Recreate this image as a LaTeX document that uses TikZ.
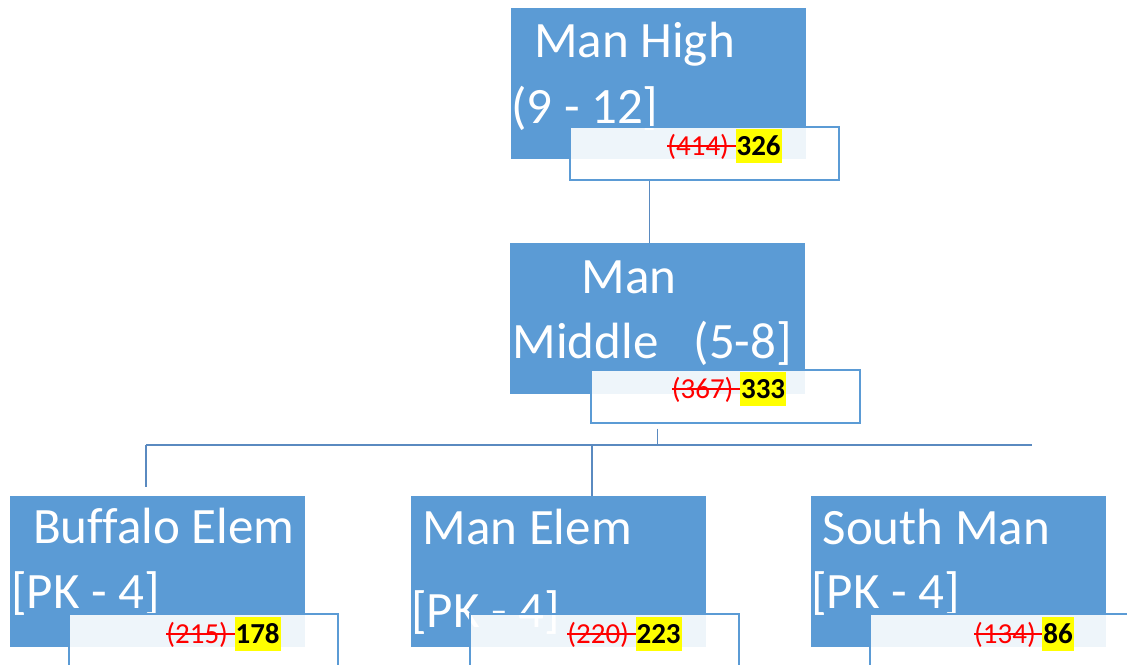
\documentclass[tikz,border=0pt]{standalone}
\usepackage{fontspec}
\setmainfont{Carlito}[Ligatures=NoCommon]
\usepackage{tikz}
\definecolor{unitblue}{HTML}{5B9BD5}
\definecolor{linkblue}{HTML}{5A8AC0}
\definecolor{oldred}{HTML}{FF0000}
\definecolor{marker}{HTML}{FFFF00}
% struck-out old enrolment, highlighted new one
\newcommand\oldtotal[1]{{\color{oldred}\setbox0\hbox{(#1) }\rlap{\rule[0.26em]{\wd0}{0.07em}}\box0}}
\newcommand\nowtotal[1]{{\setlength\fboxsep{0pt}\colorbox{marker}{\rule[-0.29em]{0pt}{1.2em}\hspace{1pt}\textbf{#1}\hspace{1pt}}}}

\begin{document}
\begin{tikzpicture}[x=1pt,y=-1pt]
\tikzstyle{unit}=[rectangle,fill=unitblue,anchor=north west,inner sep=0pt,minimum width=295pt,minimum height=151pt]
\tikzstyle{tally}=[rectangle,draw=unitblue,line width=1.5pt,fill=white,fill opacity=0.9,anchor=north west,inner sep=0pt,minimum width=269pt,minimum height=53pt]
\tikzstyle{unitname}=[text=white,anchor=base west,inner sep=0pt,font=\fontsize{51}{61}\selectfont]
\tikzstyle{tallytext}=[anchor=base,inner sep=0pt,font=\fontsize{29}{35}\selectfont]
\tikzstyle{link}=[draw=linkblue,line width=1.3pt]
\clip (0,0) rectangle (1127,664);

% schools
\node[unit] (MH) at (511,8) {};
\node[unitname] (MH1) at ([shift={(23,49)}]MH.north west) {Man High};
\node[unitname] (MH2) at ([shift={(0,115)}]MH.north west) {(9 - 12]};
\node[unit] (MM) at (510,243) {};
\node[unitname] (MM1) at ([shift={(71.5,50)}]MM.north west) {Man};
\node[unitname] (MM2) at ([shift={(2.5,115)}]MM.north west) {Middle\hspace{35pt}(5-8]};
\node[unit] (BE) at (10,496) {};
\node[unitname] (BE1) at ([shift={(23,47)}]BE.north west) {Buffalo Elem};
\node[unitname] (BE2) at ([shift={(1,112)}]BE.north west) {[PK - 4]};
\node[unit] (ME) at (411,496) {};
\node[unitname] (ME1) at ([shift={(11.5,48)}]ME.north west) {Man Elem};
\node[unitname] (ME2) at ([shift={(0,131)}]ME.north west) {[PK - 4]};
\node[unit] (SM) at (811,496) {};
\node[unitname] (SM1) at ([shift={(11.5,48)}]SM.north west) {South Man};
\node[unitname] (SM2) at ([shift={(0,112)}]SM.north west) {[PK - 4]};

% enrolment boxes
\node[tally] (MHn) at ([shift={(58,118)}]MH.north west) {};
\node[tallytext] at ([shift={(155.5,29)}]MHn.north west) {\oldtotal{414}\nowtotal{326}};
\node[tally] (MMn) at ([shift={(80,126)}]MM.north west) {};
\node[tallytext] at ([shift={(139,29)}]MMn.north west) {\oldtotal{367}\nowtotal{333}};
\node[tally] (BEn) at ([shift={(58,117)}]BE.north west) {};
\node[tallytext] at ([shift={(155.5,30)}]BEn.north west) {\oldtotal{215}\nowtotal{178}};
\node[tally] (MEn) at ([shift={(58,117)}]ME.north west) {};
\node[tallytext] at ([shift={(155.5,30)}]MEn.north west) {\oldtotal{220}\nowtotal{223}};
\node[tally] (SMn) at ([shift={(58,117)}]SM.north west) {};
\node[tallytext] at ([shift={(155,30)}]SMn.north west) {\oldtotal{134}\nowtotal{86}};

% connectors
\coordinate (busL) at (146,445);
\coordinate (busM) at (592,445);
\coordinate (busR) at (1032,445);
\draw[link] ([xshift=-8pt]MM.north) -- ([xshift=-8pt]MM.north |- MHn.south);
\draw[link] ([yshift=-5pt]MMn.south -| MM.south) -- (MM.south |- busL);
\draw[link] (busL) -- (busR);
\draw[link] (busL) -- ([yshift=9pt]busL |- BE.north);
\draw[link] (busM) -- (busM |- ME.north);
\end{tikzpicture}
\end{document}
